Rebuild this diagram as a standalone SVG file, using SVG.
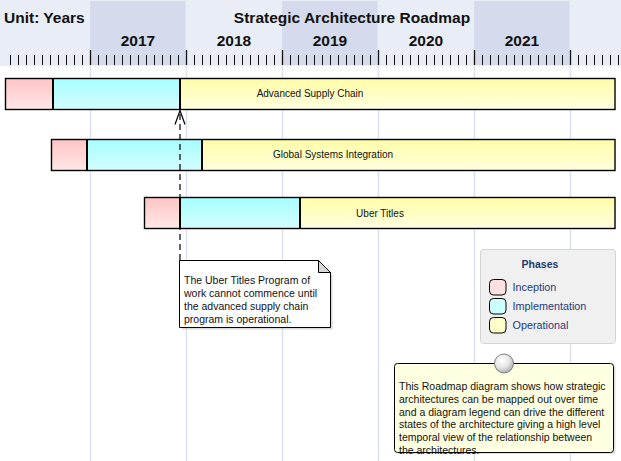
<svg xmlns="http://www.w3.org/2000/svg" width="621" height="461" viewBox="0 0 621 461">
<style>
.hdr{font-family:"Liberation Sans",Arial,sans-serif;font-weight:bold;font-size:15.5px;fill:#111}
.yr{font-family:"Liberation Sans",Arial,sans-serif;font-weight:bold;font-size:15.5px;fill:#111;text-anchor:middle}
.bl{font-family:"Liberation Sans",Arial,sans-serif;font-size:10px;fill:#111;text-anchor:middle}
.nt{font-family:"Liberation Sans",Arial,sans-serif;font-size:10.5px;fill:#111}
.lg{font-family:"Liberation Sans",Arial,sans-serif;font-size:10.8px;fill:#1E3A80}
.lgt{font-family:"Liberation Sans",Arial,sans-serif;font-size:10.5px;font-weight:bold;fill:#1E3A6E;text-anchor:middle}
.outer{fill:none;stroke:#000;stroke-width:1.4}
.div{stroke:#000;stroke-width:2}
.grid{stroke:#DCE1F0;stroke-width:1.5}
</style>
<defs>
<linearGradient id="gInc" x1="0" y1="0" x2="0" y2="1"><stop offset="0" stop-color="#FFC4C4"/><stop offset="1" stop-color="#FFE8E8"/></linearGradient>
<linearGradient id="gImp" x1="0" y1="0" x2="0" y2="1"><stop offset="0" stop-color="#A6FEFF"/><stop offset="1" stop-color="#D4FDFF"/></linearGradient>
<linearGradient id="gOp" x1="0" y1="0" x2="0" y2="1"><stop offset="0" stop-color="#FFFDA6"/><stop offset="1" stop-color="#FFFFE0"/></linearGradient>
<radialGradient id="gBall" cx="0.4" cy="0.35" r="0.7"><stop offset="0" stop-color="#FFFFFF"/><stop offset="0.5" stop-color="#E8E8E8"/><stop offset="1" stop-color="#A8A8A8"/></radialGradient>
</defs>
<rect x="0" y="0" width="621" height="461" fill="#FFFFFF"/>
<g id="header">
<rect x="0" y="0" width="621" height="66" fill="#E9EDF6"/>
<rect x="90" y="1" width="95.5" height="64" fill="#D5DBEC"/>
<rect x="282" y="1" width="95.5" height="64" fill="#D5DBEC"/>
<rect x="474" y="1" width="95.5" height="64" fill="#D5DBEC"/>
<text class="hdr" x="4" y="22.5">Unit: Years</text>
<text class="hdr" x="352" y="22.5" text-anchor="middle">Strategic Architecture Roadmap</text>
<text class="yr" x="138" y="46">2017</text>
<text class="yr" x="234" y="46">2018</text>
<text class="yr" x="330" y="46">2019</text>
<text class="yr" x="426" y="46">2020</text>
<text class="yr" x="522" y="46">2021</text>
<path stroke="#111" stroke-width="1" fill="none" d="M10.5 55V65M18.5 55V65M26.5 55V65M34.5 55V65M42.5 55V65M50.5 55V65M58.5 55V65M66.5 55V65M74.5 55V65M82.5 55V65M98.5 55V65M106.5 55V65M114.5 55V65M122.5 55V65M130.5 55V65M138.5 55V65M146.5 55V65M154.5 55V65M162.5 55V65M170.5 55V65M178.5 55V65M194.5 55V65M202.5 55V65M210.5 55V65M218.5 55V65M226.5 55V65M234.5 55V65M242.5 55V65M250.5 55V65M258.5 55V65M266.5 55V65M274.5 55V65M290.5 55V65M298.5 55V65M306.5 55V65M314.5 55V65M322.5 55V65M330.5 55V65M338.5 55V65M346.5 55V65M354.5 55V65M362.5 55V65M370.5 55V65M386.5 55V65M394.5 55V65M402.5 55V65M410.5 55V65M418.5 55V65M426.5 55V65M434.5 55V65M442.5 55V65M450.5 55V65M458.5 55V65M466.5 55V65M482.5 55V65M490.5 55V65M498.5 55V65M506.5 55V65M514.5 55V65M522.5 55V65M530.5 55V65M538.5 55V65M546.5 55V65M554.5 55V65M562.5 55V65M578.5 55V65M586.5 55V65M594.5 55V65M602.5 55V65M610.5 55V65M618.5 55V65"/>
<path stroke="#111" stroke-width="1.3" fill="none" d="M90.5 50V65M186.5 50V65M282.5 50V65M378.5 50V65M474.5 50V65M570.5 50V65"/>
</g>
<g id="grid">
<path class="grid" d="M90.5 66V461M186.5 66V461M282.5 66V461M378.5 66V461M474.5 66V461M570.5 66V461"/>
</g>
<g id="bar-advanced-supply-chain">
<rect x="5.5" y="78.5" width="47.5" height="31" fill="url(#gInc)"/>
<rect x="53" y="78.5" width="127" height="31" fill="url(#gImp)"/>
<rect x="180" y="78.5" width="435" height="31" fill="url(#gOp)"/>
<rect class="outer" x="5.5" y="78.5" width="609.5" height="31"/>
<path class="div" d="M53 78.5V109.5M180 78.5V109.5"/>
<text class="bl" x="310" y="97">Advanced Supply Chain</text>
</g>
<g id="bar-global-systems-integration">
<rect x="51.5" y="139.5" width="35.5" height="31" fill="url(#gInc)"/>
<rect x="87" y="139.5" width="115" height="31" fill="url(#gImp)"/>
<rect x="202" y="139.5" width="413" height="31" fill="url(#gOp)"/>
<rect class="outer" x="51.5" y="139.5" width="563.5" height="31"/>
<path class="div" d="M87 139.5V170.5M202 139.5V170.5"/>
<text class="bl" x="333" y="158.3">Global Systems Integration</text>
</g>
<g id="bar-uber-titles">
<rect x="144.5" y="197.5" width="35.5" height="31" fill="url(#gInc)"/>
<rect x="180" y="197.5" width="120" height="31" fill="url(#gImp)"/>
<rect x="300" y="197.5" width="315" height="31" fill="url(#gOp)"/>
<rect class="outer" x="144.5" y="197.5" width="470.5" height="31"/>
<path class="div" d="M180 197.5V228.5M300 197.5V228.5"/>
<text class="bl" x="380" y="216.5">Uber Titles</text>
</g>
<g id="connectors">
<path d="M180 260V111" fill="none" stroke="#000" stroke-width="1.2" stroke-dasharray="6 4"/>
<path d="M175 124.5L180 110.5L185 124.5" fill="none" stroke="#000" stroke-width="1.2"/>
</g>
<g id="note-uber">
<path d="M182 262.5H320.5L332.5 274.5V329.5H182Z" fill="#C0C0C0" opacity="0.6"/>
<path d="M179.5 260.5H318.5L330.5 272.5V327.5H179.5Z" fill="#FFFFFF" stroke="#000" stroke-width="1"/>
<path d="M318.5 260.5V272.5H330.5Z" fill="#D8D8D8" stroke="#000" stroke-width="1"/>
<text class="nt" x="184" y="284">The Uber Titles Program of</text>
<text class="nt" x="184" y="297">work cannot commence until</text>
<text class="nt" x="184" y="310">the advanced supply chain</text>
<text class="nt" x="184" y="323">program is operational.</text>
</g>
<g id="legend">
<rect x="480.5" y="249.5" width="135" height="94" rx="3" fill="#F0F0F0" stroke="#D4D4D4" stroke-width="1"/>
<text class="lgt" x="540" y="267.5">Phases</text>
<rect x="489.5" y="279.5" width="16.5" height="15.5" rx="4" fill="#FFE0E0" stroke="#000" stroke-width="1"/>
<rect x="489.5" y="298.5" width="16.5" height="15.5" rx="4" fill="#CCFFFF" stroke="#000" stroke-width="1"/>
<rect x="489.5" y="317.5" width="16.5" height="15.5" rx="4" fill="#FFFFCC" stroke="#000" stroke-width="1"/>
<text class="lg" x="512.5" y="291">Inception</text>
<text class="lg" x="512.5" y="310">Implementation</text>
<text class="lg" x="512.5" y="329">Operational</text>
</g>
<g id="note-roadmap">
<rect x="396" y="365" width="219.5" height="89" rx="3" fill="#C0C0C0" opacity="0.5"/>
<rect x="394.5" y="363.5" width="219" height="89" rx="3" fill="#FFFFE1" stroke="#000" stroke-width="1"/>
<circle cx="504" cy="363.5" r="9.5" fill="url(#gBall)" stroke="#808080" stroke-width="1"/>
<text class="nt" x="399" y="390">This Roadmap diagram shows how strategic</text>
<text class="nt" x="399" y="402.8">architectures can be mapped out over time</text>
<text class="nt" x="399" y="415.6">and a diagram legend can drive the different</text>
<text class="nt" x="399" y="428.4">states of the architecture giving a high level</text>
<text class="nt" x="399" y="441.2">temporal view of the relationship between</text>
<text class="nt" x="399" y="454">the architectures.</text>
</g>
</svg>
